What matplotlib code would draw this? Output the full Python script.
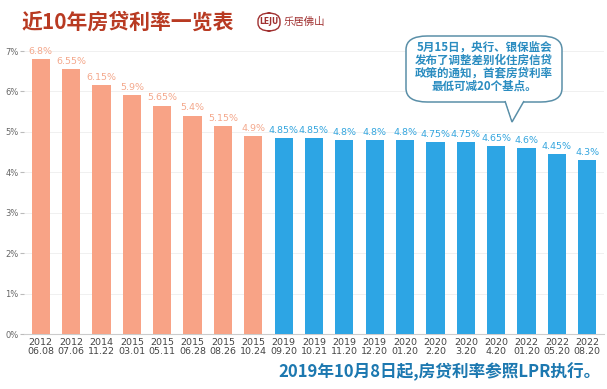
import matplotlib
matplotlib.use("Agg")
import matplotlib.pyplot as plt
from matplotlib.patches import FancyBboxPatch, Polygon

plt.rcParams['font.family'] = ['Noto Sans CJK SC', 'DejaVu Sans']

years = ["2012","2012","2014","2015","2015","2015","2015","2015",
         "2019","2019","2019","2019","2020","2020","2020","2020","2022","2022","2022"]
dates = ["06.08","07.06","11.22","03.01","05.11","06.28","08.26","10.24",
         "09.20","10.21","11.20","12.20","01.20","2.20","3.20","4.20","01.20","05.20","08.20"]
rates = [6.8, 6.55, 6.15, 5.9, 5.65, 5.4, 5.15, 4.9,
         4.85, 4.85, 4.8, 4.8, 4.8, 4.75, 4.75, 4.65, 4.6, 4.45, 4.3]
labels = ["6.8%","6.55%","6.15%","5.9%","5.65%","5.4%","5.15%","4.9%",
          "4.85%","4.85%","4.8%","4.8%","4.8%","4.75%","4.75%","4.65%","4.6%","4.45%","4.3%"]
n_old = 8
yticks = [0,1,2,3,4,5,6,7]

orange = "#F8A386"
blue = "#2DA5E4"
orange_lbl = "#F4A88C"
blue_lbl = "#35A6DF"

W, H = 607, 389
fig = plt.figure(figsize=(W/100, H/100), dpi=100)
fig.patch.set_facecolor("white")

ax_left, ax_right = 24, 604
y0, ytop = 334, 30
ax = fig.add_axes([ax_left/W, (H-y0)/H, (ax_right-ax_left)/W, (y0-ytop)/H])
n = len(rates)
x = list(range(n))
colors = [orange]*n_old + [blue]*(n-n_old)
ax.bar(x, rates, width=0.6, color=colors, zorder=3)
for i in x:
    ax.text(i, rates[i]+0.08, labels[i], ha="center", va="bottom", fontsize=6.8,
            color=orange_lbl if i < n_old else blue_lbl, zorder=4, family="DejaVu Sans")
ax.set_xlim(-0.55, n-0.45)
ax.set_ylim(0, 7.52)
ax.set_yticks(yticks)
ax.set_yticklabels([f"{v}%" for v in yticks], fontsize=6, color="#666666", family="DejaVu Sans")
ax.set_xticks(x)
ax.set_xticklabels([f"{a}\n{b}" for a, b in zip(years, dates)], fontsize=6.8,
                   color="#444444", linespacing=0.95, family="DejaVu Sans")
ax.tick_params(axis="x", length=0, pad=3)
ax.tick_params(axis="y", length=3, color="#bbbbbb", pad=1)
ax.grid(axis="y", color="#eeeeee", linewidth=0.6, zorder=0)
for s in ["top", "right", "left"]:
    ax.spines[s].set_visible(False)
ax.spines["bottom"].set_color("#cccccc")
ax.set_facecolor("none")

# title
fig.text(22/W, 1-22/H, "近10年房贷利率一览表", fontsize=15, fontweight="heavy",
         color="#B83A22", ha="left", va="center")
# logo
fig.patches.append(FancyBboxPatch((258/W, 1-31/H), 22/W, 18/H, boxstyle="round,pad=0,rounding_size=0.02",
                                  transform=fig.transFigure, fill=False, edgecolor="#A03030", linewidth=1.0))
fig.text(269/W, 1-22/H, "LEJU", fontsize=5.5, fontweight="bold", color="#A03030",
         ha="center", va="center", family="DejaVu Sans")
fig.text(284/W, 1-22/H, "乐居佛山", fontsize=7.5, color="#A03030", ha="left", va="center")

# speech bubble
bx0, by0, bx1, by1 = 406, 36, 562, 102
bubble = FancyBboxPatch((bx0/W, 1-by1/H), (bx1-bx0)/W, (by1-by0)/H,
                        boxstyle="round,pad=0,rounding_size=0.035",
                        transform=fig.transFigure, facecolor="white",
                        edgecolor="#5a8fa8", linewidth=1.1, zorder=10)
fig.patches.append(bubble)
tail = Polygon([(505/W, 1-101/H), (512/W, 1-122/H), (524/W, 1-101/H)], closed=False,
               transform=fig.transFigure, facecolor="white", edgecolor="#5a8fa8",
               linewidth=1.1, zorder=11)
fig.patches.append(tail)
fig.patches.append(Polygon([(506/W, 1-100/H), (512/W, 1-119/H), (523/W, 1-100/H)], closed=True,
               transform=fig.transFigure, facecolor="white", edgecolor="none", zorder=12))
bubble_lines = ["5月15日，央行、银保监会", "发布了调整差别化住房信贷",
                "政策的通知，首套房贷利率", "最低可减20个基点。"]
for k, line in enumerate(bubble_lines):
    fig.text(484/W, 1-(47.5+13*k)/H, line, fontsize=8.3, fontweight="bold",
             color="#2A8CC0", ha="center", va="center", zorder=13)

# footer
fig.text(601/W, 1-372/H, "2019年10月8日起,房贷利率参照LPR执行。", fontsize=12,
         fontweight="heavy", color="#1C78B0", ha="right", va="center")

fig.savefig("out.png", dpi=100)
